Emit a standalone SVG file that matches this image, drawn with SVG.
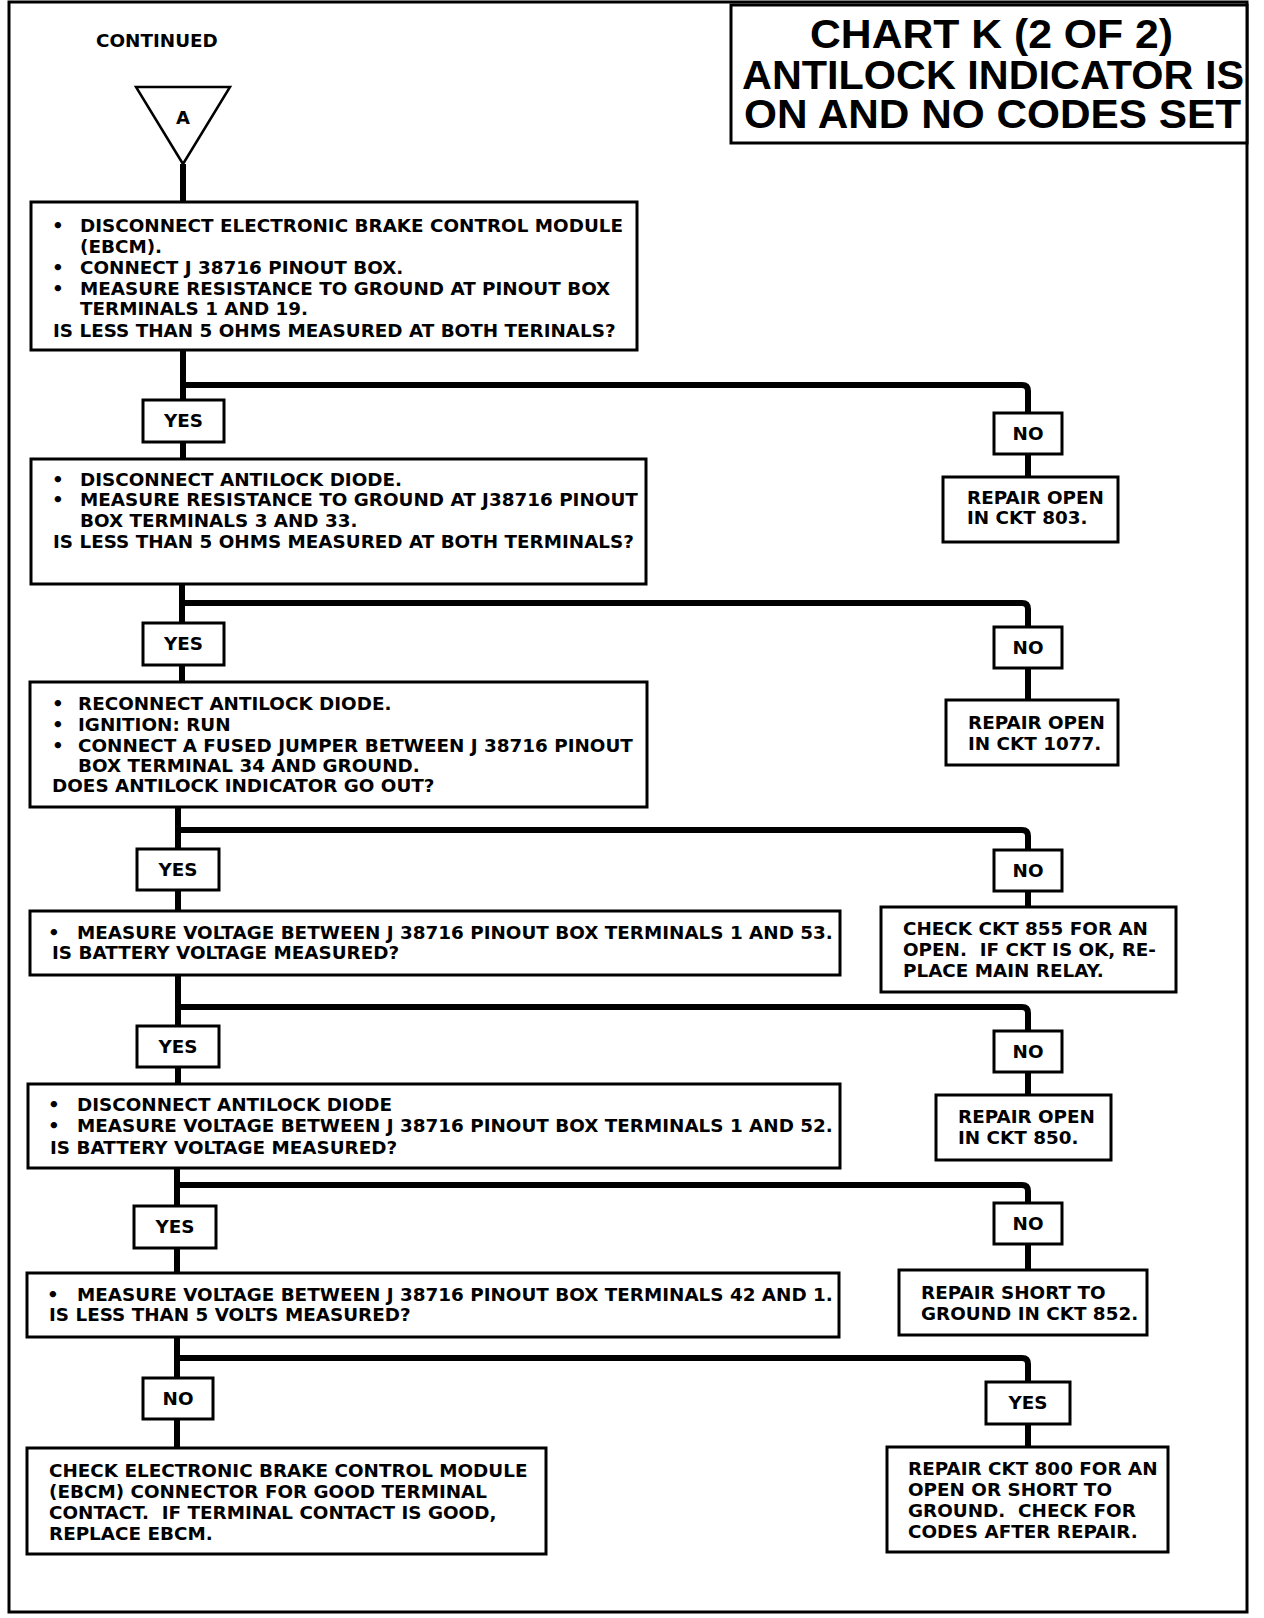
<svg xmlns="http://www.w3.org/2000/svg" width="1264" height="1618" viewBox="0 0 1264 1618">
<style>
.frame{fill:none;stroke:#000;stroke-width:3}
.box{fill:#fff;stroke:#000;stroke-width:3}
.conn{fill:none;stroke:#000;stroke-width:6;stroke-linejoin:round}
.t{font-family:"DejaVu Sans",sans-serif;font-weight:bold;font-size:17px;fill:#000}
.c{text-anchor:middle}
.title{font-family:"Liberation Sans",Arial,sans-serif;font-weight:bold;font-size:40px;fill:#000}
</style>
<rect width="1264" height="1618" fill="#fff"/>
<rect class="frame" x="9" y="2" width="1238" height="1610"/>

<g id="title">
<rect class="box" x="731" y="5" width="516" height="138"/>
<text class="title" x="810" y="48" textLength="363" lengthAdjust="spacingAndGlyphs">CHART K (2 OF 2)</text>
<text class="title" x="742" y="89" textLength="502" lengthAdjust="spacingAndGlyphs">ANTILOCK INDICATOR IS</text>
<text class="title" x="744" y="128" textLength="497" lengthAdjust="spacingAndGlyphs">ON AND NO CODES SET</text>
</g>

<g id="continued">
<text class="t" transform="translate(96,46.5) scale(1.08,1)">CONTINUED</text>
</g>

<g id="connectors">
<path class="conn" d="M183,164 V202"/>
<path class="conn" d="M183,350 V400"/>
<path class="conn" d="M183,385 H1022 Q1028,385 1028,391 V413"/>
<path class="conn" d="M183,442 V459"/>
<path class="conn" d="M1028,454 V477"/>
<path class="conn" d="M182,584 V623"/>
<path class="conn" d="M182,603 H1022 Q1028,603 1028,609 V627"/>
<path class="conn" d="M182,665 V682"/>
<path class="conn" d="M1028,668 V700"/>
<path class="conn" d="M178,807 V849"/>
<path class="conn" d="M178,830 H1022 Q1028,830 1028,836 V850"/>
<path class="conn" d="M178,890 V911"/>
<path class="conn" d="M1028,891 V907"/>
<path class="conn" d="M178,975 V1026"/>
<path class="conn" d="M178,1007 H1022 Q1028,1007 1028,1013 V1031"/>
<path class="conn" d="M178,1067 V1084"/>
<path class="conn" d="M1028,1072 V1095"/>
<path class="conn" d="M177,1168 V1206"/>
<path class="conn" d="M177,1185 H1022 Q1028,1185 1028,1191 V1203"/>
<path class="conn" d="M177,1248 V1273"/>
<path class="conn" d="M1028,1244 V1270"/>
<path class="conn" d="M177,1337 V1378"/>
<path class="conn" d="M177,1358 H1022 Q1028,1358 1028,1364 V1382"/>
<path class="conn" d="M177,1419 V1448"/>
<path class="conn" d="M1028,1424 V1447"/>
</g>

<g id="nodeA">
<polygon points="136,87 230,87 183,164" fill="#fff" stroke="#000" stroke-width="2.5"/>
<text class="t c" style="font-size:18px" x="183" y="124">A</text>
</g>

<g id="step1">
<rect class="box" x="31" y="202" width="606" height="148"/>
<text class="t" transform="translate(52,232) scale(1.08,1)">•</text>
<text class="t" transform="translate(80,232) scale(1.08,1)">DISCONNECT ELECTRONIC BRAKE CONTROL MODULE</text>
<text class="t" transform="translate(80,253) scale(1.08,1)">(EBCM).</text>
<text class="t" transform="translate(52,274) scale(1.08,1)">•</text>
<text class="t" transform="translate(80,274) scale(1.08,1)">CONNECT J 38716 PINOUT BOX.</text>
<text class="t" transform="translate(52,295) scale(1.08,1)">•</text>
<text class="t" transform="translate(80,295) scale(1.08,1)">MEASURE RESISTANCE TO GROUND AT PINOUT BOX</text>
<text class="t" transform="translate(80,315) scale(1.08,1)">TERMINALS 1 AND 19.</text>
<text class="t" transform="translate(53,337) scale(1.08,1)">IS LESS THAN 5 OHMS MEASURED AT BOTH TERINALS?</text>
</g>

<g id="yes1"><rect class="box" x="143" y="400" width="81" height="42"/><text class="t c" transform="translate(183.5,427) scale(1.08,1)">YES</text></g>
<g id="no1"><rect class="box" x="994" y="413" width="68" height="41"/><text class="t c" transform="translate(1028,440) scale(1.08,1)">NO</text></g>
<g id="repair803">
<rect class="box" x="943" y="477" width="175" height="65"/>
<text class="t" transform="translate(967,504) scale(1.08,1)">REPAIR OPEN</text>
<text class="t" transform="translate(967,524) scale(1.08,1)">IN CKT 803.</text>
</g>

<g id="step2">
<rect class="box" x="31" y="459" width="615" height="125"/>
<text class="t" transform="translate(52,486) scale(1.08,1)">•</text>
<text class="t" transform="translate(80,486) scale(1.08,1)">DISCONNECT ANTILOCK DIODE.</text>
<text class="t" transform="translate(52,506) scale(1.08,1)">•</text>
<text class="t" transform="translate(80,506) scale(1.08,1)">MEASURE RESISTANCE TO GROUND AT J38716 PINOUT</text>
<text class="t" transform="translate(80,527) scale(1.08,1)">BOX TERMINALS 3 AND 33.</text>
<text class="t" transform="translate(53,548) scale(1.08,1)">IS LESS THAN 5 OHMS MEASURED AT BOTH TERMINALS?</text>
</g>

<g id="yes2"><rect class="box" x="143" y="623" width="81" height="42"/><text class="t c" transform="translate(183.5,650) scale(1.08,1)">YES</text></g>
<g id="no2"><rect class="box" x="994" y="627" width="68" height="41"/><text class="t c" transform="translate(1028,654) scale(1.08,1)">NO</text></g>
<g id="repair1077">
<rect class="box" x="946" y="700" width="172" height="65"/>
<text class="t" transform="translate(968,729) scale(1.08,1)">REPAIR OPEN</text>
<text class="t" transform="translate(968,750) scale(1.08,1)">IN CKT 1077.</text>
</g>

<g id="step3">
<rect class="box" x="30" y="682" width="617" height="125"/>
<text class="t" transform="translate(52,710) scale(1.08,1)">•</text>
<text class="t" transform="translate(78,710) scale(1.08,1)">RECONNECT ANTILOCK DIODE.</text>
<text class="t" transform="translate(52,731) scale(1.08,1)">•</text>
<text class="t" transform="translate(78,731) scale(1.08,1)">IGNITION: RUN</text>
<text class="t" transform="translate(52,752) scale(1.08,1)">•</text>
<text class="t" transform="translate(78,752) scale(1.08,1)">CONNECT A FUSED JUMPER BETWEEN J 38716 PINOUT</text>
<text class="t" transform="translate(78,772) scale(1.08,1)">BOX TERMINAL 34 AND GROUND.</text>
<text class="t" transform="translate(52,792) scale(1.08,1)">DOES ANTILOCK INDICATOR GO OUT?</text>
</g>

<g id="yes3"><rect class="box" x="137" y="849" width="82" height="41"/><text class="t c" transform="translate(178,876) scale(1.08,1)">YES</text></g>
<g id="no3"><rect class="box" x="994" y="850" width="68" height="41"/><text class="t c" transform="translate(1028,877) scale(1.08,1)">NO</text></g>
<g id="check855">
<rect class="box" x="881" y="907" width="295" height="85"/>
<text class="t" transform="translate(903,935) scale(1.08,1)">CHECK CKT 855 FOR AN</text>
<text class="t" xml:space="preserve" transform="translate(903,956) scale(1.08,1)">OPEN.  IF CKT IS OK, RE-</text>
<text class="t" transform="translate(903,977) scale(1.08,1)">PLACE MAIN RELAY.</text>
</g>

<g id="step4">
<rect class="box" x="30" y="911" width="810" height="64"/>
<text class="t" transform="translate(48,939) scale(1.08,1)">•</text>
<text class="t" transform="translate(77,939) scale(1.08,1)">MEASURE VOLTAGE BETWEEN J 38716 PINOUT BOX TERMINALS 1 AND 53.</text>
<text class="t" transform="translate(52,959) scale(1.08,1)">IS BATTERY VOLTAGE MEASURED?</text>
</g>

<g id="yes4"><rect class="box" x="137" y="1026" width="82" height="41"/><text class="t c" transform="translate(178,1053) scale(1.08,1)">YES</text></g>
<g id="no4"><rect class="box" x="994" y="1031" width="68" height="41"/><text class="t c" transform="translate(1028,1058) scale(1.08,1)">NO</text></g>
<g id="repair850">
<rect class="box" x="936" y="1095" width="175" height="65"/>
<text class="t" transform="translate(958,1123) scale(1.08,1)">REPAIR OPEN</text>
<text class="t" transform="translate(958,1144) scale(1.08,1)">IN CKT 850.</text>
</g>

<g id="step5">
<rect class="box" x="28" y="1084" width="812" height="84"/>
<text class="t" transform="translate(48,1111) scale(1.08,1)">•</text>
<text class="t" transform="translate(77,1111) scale(1.08,1)">DISCONNECT ANTILOCK DIODE</text>
<text class="t" transform="translate(48,1132) scale(1.08,1)">•</text>
<text class="t" transform="translate(77,1132) scale(1.08,1)">MEASURE VOLTAGE BETWEEN J 38716 PINOUT BOX TERMINALS 1 AND 52.</text>
<text class="t" transform="translate(50,1154) scale(1.08,1)">IS BATTERY VOLTAGE MEASURED?</text>
</g>

<g id="yes5"><rect class="box" x="134" y="1206" width="82" height="42"/><text class="t c" transform="translate(175,1233) scale(1.08,1)">YES</text></g>
<g id="no5"><rect class="box" x="994" y="1203" width="68" height="41"/><text class="t c" transform="translate(1028,1230) scale(1.08,1)">NO</text></g>
<g id="repair852">
<rect class="box" x="899" y="1270" width="248" height="65"/>
<text class="t" transform="translate(921,1299) scale(1.08,1)">REPAIR SHORT TO</text>
<text class="t" transform="translate(921,1320) scale(1.08,1)">GROUND IN CKT 852.</text>
</g>

<g id="step6">
<rect class="box" x="27" y="1273" width="812" height="64"/>
<text class="t" transform="translate(47,1301) scale(1.08,1)">•</text>
<text class="t" transform="translate(77,1301) scale(1.08,1)">MEASURE VOLTAGE BETWEEN J 38716 PINOUT BOX TERMINALS 42 AND 1.</text>
<text class="t" transform="translate(49,1321) scale(1.08,1)">IS LESS THAN 5 VOLTS MEASURED?</text>
</g>

<g id="no6"><rect class="box" x="143" y="1378" width="70" height="41"/><text class="t c" transform="translate(178,1405) scale(1.08,1)">NO</text></g>
<g id="yes6"><rect class="box" x="986" y="1382" width="84" height="42"/><text class="t c" transform="translate(1028,1409) scale(1.08,1)">YES</text></g>

<g id="checkEBCM">
<rect class="box" x="27" y="1448" width="519" height="106"/>
<text class="t" transform="translate(49,1477) scale(1.08,1)">CHECK ELECTRONIC BRAKE CONTROL MODULE</text>
<text class="t" transform="translate(49,1498) scale(1.08,1)">(EBCM) CONNECTOR FOR GOOD TERMINAL</text>
<text class="t" xml:space="preserve" transform="translate(49,1519) scale(1.08,1)">CONTACT.  IF TERMINAL CONTACT IS GOOD,</text>
<text class="t" transform="translate(49,1540) scale(1.08,1)">REPLACE EBCM.</text>
</g>

<g id="repair800">
<rect class="box" x="887" y="1447" width="281" height="105"/>
<text class="t" transform="translate(908,1475) scale(1.08,1)">REPAIR CKT 800 FOR AN</text>
<text class="t" transform="translate(908,1496) scale(1.08,1)">OPEN OR SHORT TO</text>
<text class="t" xml:space="preserve" transform="translate(908,1517) scale(1.08,1)">GROUND.  CHECK FOR</text>
<text class="t" transform="translate(908,1538) scale(1.08,1)">CODES AFTER REPAIR.</text>
</g>
</svg>
